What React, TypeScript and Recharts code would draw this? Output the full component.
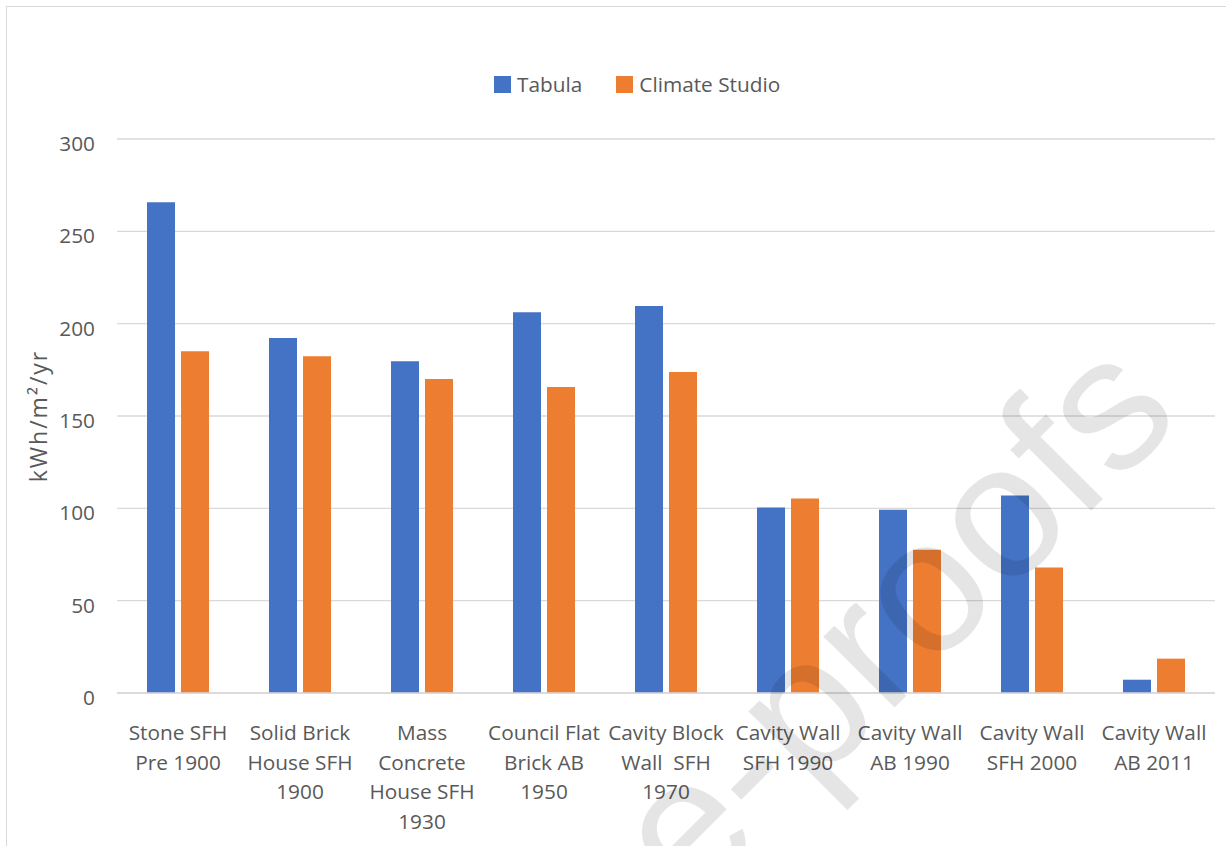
import React from 'react';
import { BarChart, Bar, XAxis, YAxis, CartesianGrid, Legend } from 'recharts';

const categories = [
  'Stone SFH\nPre 1900',
  'Solid Brick\nHouse SFH\n1900',
  'Mass\nConcrete\nHouse SFH\n1930',
  'Council Flat\nBrick AB\n1950',
  'Cavity Block\nWall  SFH\n1970',
  'Cavity Wall\nSFH 1990',
  'Cavity Wall\nAB 1990',
  'Cavity Wall\nSFH 2000',
  'Cavity Wall\nAB 2011',
];
const tabula = [265.7, 192.2, 179.7, 206.2, 209.5, 100.4, 99.3, 106.9, 7.2];
const climateStudio = [185.1, 182.4, 170.0, 165.7, 173.8, 105.3, 77.6, 67.9, 18.6];
const yTicks = [0, 50, 100, 150, 200, 250, 300];
const seriesNames = ['Tabula', 'Climate Studio'];
const yLabel = 'kWh/m²/yr';
const watermark = 'e-proofs';

const data = categories.map((name, i) => ({ name, tabula: tabula[i], climate: climateStudio[i] }));

const FONT = "'Open Sans', sans-serif";
const TEXT = '#595959';
const BLUE = '#4472C4';
const ORANGE = '#ED7D31';
const GRID = '#d9d9d9';
const FS = 20.8;
const LEGEND_H = 24;

function XTick(props: any) {
  const { x, y, payload } = props;
  const lines = String(payload.value).split('\n');
  return (
    <g>
      {lines.map((l: string, i: number) => (
        <text
          key={i}
          x={x}
          y={y + 39 + i * 29.7}
          textAnchor="middle"
          dominantBaseline="central"
          fill={TEXT}
          fontSize={FS}
          fontFamily={FONT}
          xmlSpace="preserve"
          style={{ whiteSpace: 'pre' }}
        >
          {l}
        </text>
      ))}
    </g>
  );
}

function YTick(props: any) {
  const { x, y, payload } = props;
  return (
    <text x={x} y={y + 4} textAnchor="end" dominantBaseline="central" fill={TEXT} fontSize={FS} fontFamily={FONT}>
      {payload.value}
    </text>
  );
}

function YLabel(props: any) {
  const vb = props.viewBox || { x: 0, y: 139, width: 117, height: 554 };
  const cx = 38;
  const cy = vb.y + vb.height / 2;
  return (
    <text
      x={cx}
      y={cy}
      transform={`rotate(-90 ${cx} ${cy})`}
      textAnchor="middle"
      dominantBaseline="central"
      fill={TEXT}
      fontSize={23}
      letterSpacing={2}
      fontFamily={FONT}
    >
      {yLabel}
    </text>
  );
}

function LegendContent() {
  const colors = [BLUE, ORANGE];
  return (
    <div style={{ display: 'flex', alignItems: 'center', paddingLeft: 494, height: LEGEND_H }}>
      {seriesNames.map((n, i) => (
        <div key={n} style={{ display: 'flex', alignItems: 'center', marginRight: 34 }}>
          <div style={{ width: 17, height: 17, background: colors[i], marginRight: 6 }} />
          <span style={{ color: TEXT, fontSize: FS, fontFamily: FONT, lineHeight: `${LEGEND_H}px` }}>{n}</span>
        </div>
      ))}
    </div>
  );
}

export default function App() {
  return (
    <div style={{ position: 'fixed', left: 0, top: 0, width: 1226, height: 846, overflow: 'hidden', background: '#fff' }}>
      <div
        style={{
          position: 'absolute',
          left: 6,
          top: 6,
          width: 1400,
          height: 1000,
          border: `1.5px solid ${GRID}`,
          boxSizing: 'border-box',
        }}
      />
      <div style={{ position: 'absolute', left: 0, top: 0 }}>
        <BarChart
          width={1226}
          height={846}
          data={data}
          margin={{ top: 139 - LEGEND_H, right: 11, bottom: 0, left: 0 }}
          barSize={28}
          barGap={6}
        >
          <CartesianGrid vertical={false} stroke={GRID} strokeWidth={1.3} />
          <XAxis
            dataKey="name"
            height={153}
            interval={0}
            tickLine={false}
            tickSize={0}
            tickMargin={0}
            axisLine={{ stroke: GRID, strokeWidth: 1.5 }}
            tick={<XTick />}
          />
          <YAxis
            width={117}
            domain={[0, 300]}
            ticks={yTicks}
            axisLine={false}
            tickLine={false}
            tickSize={0}
            tickMargin={22}
            tick={<YTick />}
            label={<YLabel />}
          />
          <Legend
            verticalAlign="top"
            height={LEGEND_H}
            content={<LegendContent />}
            wrapperStyle={{ position: 'absolute', top: 72, left: 0, width: 1226, height: LEGEND_H }}
          />
          <Bar dataKey="tabula" name={seriesNames[0]} fill={BLUE} isAnimationActive={false} />
          <Bar dataKey="climate" name={seriesNames[1]} fill={ORANGE} isAnimationActive={false} />
        </BarChart>
      </div>
      <svg
        width={1226}
        height={846}
        style={{ position: 'absolute', left: 0, top: 0, pointerEvents: 'none' }}
      >
        <text
          x={691}
          y={911}
          textAnchor="start"
          transform="rotate(-45 691 911)"
          fontFamily="'Liberation Sans', Arial, sans-serif"
          fontSize={190}
          fill="#000"
          fillOpacity={0.1}
        >
          {watermark}
        </text>
      </svg>
    </div>
  );
}
